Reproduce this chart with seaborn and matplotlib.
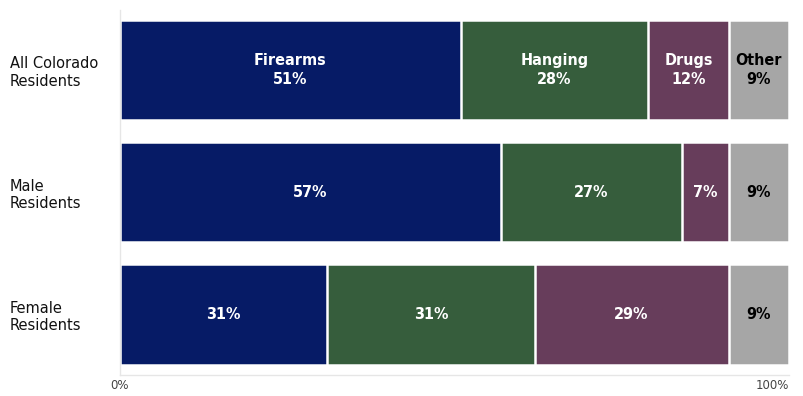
import matplotlib
matplotlib.use("Agg")
import matplotlib.pyplot as plt
import numpy as np
import pandas as pd
import seaborn as sns

groups = ["All Colorado\nResidents", "Male\nResidents", "Female\nResidents"]
methods = ["Firearms", "Hanging", "Drugs", "Other"]
firearms = [51, 57, 31]
hanging = [28, 27, 31]
drugs = [12, 7, 29]
other = [9, 9, 9]
colors = ["#061B66", "#365D3C", "#673D5B", "#A6A6A6"]
text_colors = ["white", "white", "white", "black"]

sns.set_theme(style="white")
plt.rcParams["font.family"] = ["DejaVu Sans"]

values = np.array([firearms, hanging, drugs, other], dtype=float)
cum = values.cumsum(axis=0)

fig = plt.figure(figsize=(8.04, 3.96), dpi=100)
ax = fig.add_axes([0.149, 0.053, 0.832, 0.922])

# Stacked bars: draw cumulative totals from the outermost layer inwards
for i in range(len(methods) - 1, -1, -1):
    df = pd.DataFrame({"group": groups, "total": cum[i]})
    sns.barplot(data=df, x="total", y="group", orient="h", color=colors[i],
                width=0.82, edgecolor="white", linewidth=1.8, saturation=1,
                ax=ax)

# Segment labels
for r in range(len(groups)):
    for i, m in enumerate(methods):
        start = cum[i, r] - values[i, r]
        xc = start + values[i, r] / 2
        v = int(values[i, r])
        label = f"{m}\n{v}%" if r == 0 else f"{v}%"
        ax.text(xc, r, label, ha="center", va="center", color=text_colors[i],
                fontsize=11.5, fontweight="bold", fontstretch="condensed",
                linespacing=1.35)

ax.set_xlim(0, 100)
ax.set_ylim(2.495, -0.49)
ax.set_xticks([0, 100])
ax.set_xticklabels(["0%", "100%"], fontsize=8.5, color="#444444")
ax.set_xlabel("")
ax.set_ylabel("")
ax.tick_params(axis="x", length=0, pad=3)
ax.tick_params(axis="y", length=0, pad=79)
for lbl in ax.get_yticklabels():
    lbl.set_horizontalalignment("left")
    lbl.set_fontsize(10.5)
    lbl.set_color("#111111")
ax.get_xticklabels()[1].set_horizontalalignment("right")
ax.get_xticklabels()[1].set_x(100)

for side in ["top", "right"]:
    ax.spines[side].set_visible(False)
for side in ["left", "bottom"]:
    ax.spines[side].set_color("#E6E6E6")
    ax.spines[side].set_linewidth(1)

fig.savefig("out.png", dpi=100)
